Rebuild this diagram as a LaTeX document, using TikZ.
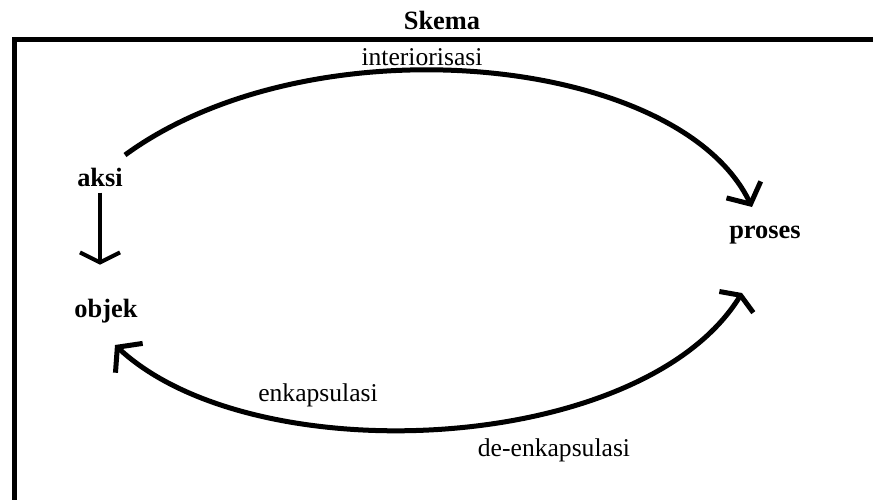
\documentclass[tikz,border=0pt]{standalone}
\usepackage{fontspec}
\setmainfont{Liberation Serif}
\usetikzlibrary{arrows.meta}
\tikzset{
  konsep/.style={font=\fontsize{13.2}{16}\selectfont\bfseries,inner sep=3pt},
  ket/.style={font=\fontsize{12.8}{15}\selectfont,inner sep=2pt},
  bingkai/.style={line width=2.5pt},
  busur/.style={line width=2.5pt,-{Straight Barb[length=8pt,width=19pt]}},
  busurdua/.style={line width=2.5pt,
    {Straight Barb[length=4pt,width=20pt]}-{Straight Barb[length=8pt,width=20pt]}},
  turun/.style={line width=2pt,-{Straight Barb[length=5pt,width=20pt]}},
}

\begin{document}
\begin{tikzpicture}[x=0.5pt,y=-0.5pt]
  \clip (0,0) rectangle (873,499);
  % bingkai skema
  \draw[bingkai] (14,520) -- (14,39.5) -- (890,39.5);
  \node[konsep] (skema) at (442,20) {Skema};
  % konsep
  \node[konsep] (aksi) at (100,177) {aksi};
  \node[konsep] (objek) at (106,311) {objek};
  \node[konsep] (proses) at (765,235) {proses};
  % keterangan
  \node[ket] (interior) at (422,57) {interiorisasi};
  \node[ket] (enkap) at (318,395) {enkapsulasi};
  \node[ket] (deenkap) at (554,450) {de-enkapsulasi};
  % panah
  \draw[turun,shorten >=14pt] (aksi.south) -- (aksi.south |- objek.north);
  \draw[busur] ([shift={(25,-22)}]aksi.center)
    .. controls +(186,-136) and +(-74,-153) .. ([shift={(-13,-28)}]proses.center);
  \draw[busurdua] ([shift={(-23,58)}]proses.center)
    .. controls +(-101,162) and +(139,129) .. ([shift={(9,34)}]objek.center);
\end{tikzpicture}
\end{document}
